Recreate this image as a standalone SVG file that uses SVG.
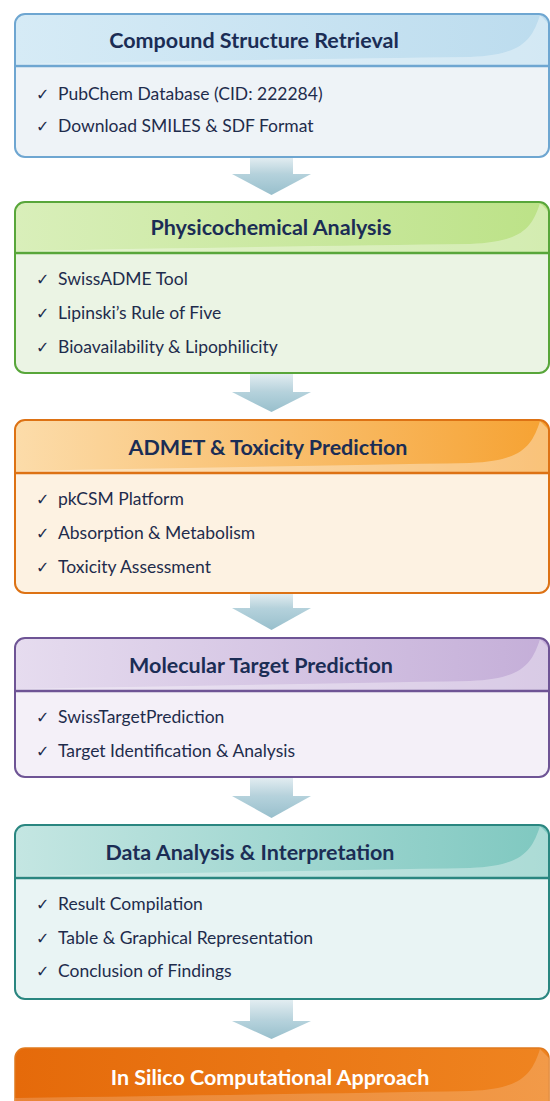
<svg xmlns="http://www.w3.org/2000/svg" width="550" height="1101" viewBox="0 0 550 1101">
  <defs>
    <style>
      .title { font-family: Lato, "Liberation Sans", sans-serif; font-weight: 700; font-size: 21.5px; fill: #1b2d55; text-anchor: middle; }
      .item { font-family: Lato, "Liberation Sans", sans-serif; font-size: 17.5px; fill: #1e2c4c; }
      .chk { font-family: "DejaVu Sans", sans-serif; font-size: 16px; fill: #1e2c4c; }
      .sheen { fill: #ffffff; opacity: 0.35; }
      .box { stroke-width: 2; }
    </style>
    <linearGradient id="hBlue" x1="0" y1="0" x2="1" y2="0">
      <stop offset="0" stop-color="#d6ebf6"/>
      <stop offset="1" stop-color="#bcdcee"/>
    </linearGradient>
    <linearGradient id="hGreen" x1="0" y1="0" x2="1" y2="0">
      <stop offset="0" stop-color="#d9efba"/>
      <stop offset="1" stop-color="#bce287"/>
    </linearGradient>
    <linearGradient id="hOrange" x1="0" y1="0" x2="1" y2="0">
      <stop offset="0" stop-color="#fcdcaa"/>
      <stop offset="1" stop-color="#f6a232"/>
    </linearGradient>
    <linearGradient id="hPurple" x1="0" y1="0" x2="1" y2="0">
      <stop offset="0" stop-color="#e6dcef"/>
      <stop offset="1" stop-color="#c4aed8"/>
    </linearGradient>
    <linearGradient id="hTeal" x1="0" y1="0" x2="1" y2="0">
      <stop offset="0" stop-color="#c4e6e2"/>
      <stop offset="1" stop-color="#7fc8c0"/>
    </linearGradient>
    <linearGradient id="hFinal" x1="0" y1="0" x2="1" y2="0">
      <stop offset="0" stop-color="#e56a0a"/>
      <stop offset="1" stop-color="#ef8420"/>
    </linearGradient>
    <linearGradient id="shaft" x1="0" y1="0" x2="0" y2="1">
      <stop offset="0" stop-color="#e4eef2"/>
      <stop offset="1" stop-color="#b3d0da"/>
    </linearGradient>
    <linearGradient id="head" x1="0" y1="0" x2="0" y2="1">
      <stop offset="0" stop-color="#b5d2dc"/>
      <stop offset="1" stop-color="#98bfcc"/>
    </linearGradient>
  </defs>

  <rect width="550" height="1101" fill="#ffffff"/>

  <!-- flow arrows between stages -->
  <g id="connectors">
    <rect x="250" y="157" width="43" height="18" fill="url(#shaft)"/>
    <polygon points="232,174 311,174 271.5,195" fill="url(#head)"/>
    <rect x="250" y="373" width="43" height="20" fill="url(#shaft)"/>
    <polygon points="232,392 311,392 271.5,412" fill="url(#head)"/>
    <rect x="250" y="593" width="43" height="16" fill="url(#shaft)"/>
    <polygon points="232,608 311,608 271.5,630" fill="url(#head)"/>
    <rect x="250" y="777" width="43" height="20" fill="url(#shaft)"/>
    <polygon points="232,796 311,796 271.5,818" fill="url(#head)"/>
    <rect x="250" y="999" width="43" height="23" fill="url(#shaft)"/>
    <polygon points="232,1021 311,1021 271.5,1039" fill="url(#head)"/>
  </g>

  <!-- stage 1 -->
  <g id="stage-retrieval">
    <rect x="15" y="14" width="534" height="143" rx="10" fill="#eef3f7"/>
    <path d="M25,14 H539 A10,10 0 0 1 549,24 V66 H15 V24 A10,10 0 0 1 25,14 Z" fill="url(#hBlue)"/>
    <path class="sheen" d="M15,64 Q300,59 470,57 C522,55 532,40 540,15 L549,24 V66 H15 Z"/>
    <line x1="15" y1="66" x2="549" y2="66" stroke="#6ea6d1" stroke-width="2.5"/>
    <rect class="box" x="15" y="14" width="534" height="143" rx="10" fill="none" stroke="#6ea6d1"/>
    <text class="title" x="254" y="48">Compound Structure Retrieval</text>
    <text class="chk" x="36" y="100">✓</text>
    <text class="item" x="58" y="100">PubChem Database (CID: 222284)</text>
    <text class="chk" x="36" y="132">✓</text>
    <text class="item" x="58" y="132">Download SMILES &amp; SDF Format</text>
  </g>

  <!-- stage 2 -->
  <g id="stage-physchem">
    <rect x="15" y="202" width="534" height="171" rx="10" fill="#ebf4e4"/>
    <path d="M25,202 H539 A10,10 0 0 1 549,212 V253 H15 V212 A10,10 0 0 1 25,202 Z" fill="url(#hGreen)"/>
    <path class="sheen" d="M15,251 Q300,246 470,244 C522,242 532,228 540,203 L549,212 V253 H15 Z"/>
    <line x1="15" y1="253" x2="549" y2="253" stroke="#58a63a" stroke-width="2.5"/>
    <rect class="box" x="15" y="202" width="534" height="171" rx="10" fill="none" stroke="#58a63a"/>
    <text class="title" x="271" y="235">Physicochemical Analysis</text>
    <text class="chk" x="36" y="285">✓</text>
    <text class="item" x="58" y="285">SwissADME Tool</text>
    <text class="chk" x="36" y="319">✓</text>
    <text class="item" x="58" y="319">Lipinski’s Rule of Five</text>
    <text class="chk" x="36" y="353">✓</text>
    <text class="item" x="58" y="353">Bioavailability &amp; Lipophilicity</text>
  </g>

  <!-- stage 3 -->
  <g id="stage-admet">
    <rect x="15" y="420" width="534" height="173" rx="10" fill="#fdf2e2"/>
    <path d="M25,420 H539 A10,10 0 0 1 549,430 V473 H15 V430 A10,10 0 0 1 25,420 Z" fill="url(#hOrange)"/>
    <path class="sheen" d="M15,471 Q300,466 470,463 C522,461 532,446 540,421 L549,430 V473 H15 Z"/>
    <line x1="15" y1="473" x2="549" y2="473" stroke="#dd7214" stroke-width="2.5"/>
    <rect class="box" x="15" y="420" width="534" height="173" rx="10" fill="none" stroke="#dd7214"/>
    <text class="title" x="268" y="455">ADMET &amp; Toxicity Prediction</text>
    <text class="chk" x="36" y="505">✓</text>
    <text class="item" x="58" y="505">pkCSM Platform</text>
    <text class="chk" x="36" y="539">✓</text>
    <text class="item" x="58" y="539">Absorption &amp; Metabolism</text>
    <text class="chk" x="36" y="573">✓</text>
    <text class="item" x="58" y="573">Toxicity Assessment</text>
  </g>

  <!-- stage 4 -->
  <g id="stage-target">
    <rect x="15" y="638" width="534" height="139" rx="10" fill="#f4f0f8"/>
    <path d="M25,638 H539 A10,10 0 0 1 549,648 V691 H15 V648 A10,10 0 0 1 25,638 Z" fill="url(#hPurple)"/>
    <path class="sheen" d="M15,689 Q300,684 470,681 C522,679 532,664 540,639 L549,648 V691 H15 Z"/>
    <line x1="15" y1="691" x2="549" y2="691" stroke="#6e5495" stroke-width="2.5"/>
    <rect class="box" x="15" y="638" width="534" height="139" rx="10" fill="none" stroke="#6e5495"/>
    <text class="title" x="261" y="673">Molecular Target Prediction</text>
    <text class="chk" x="36" y="723">✓</text>
    <text class="item" x="58" y="723">SwissTargetPrediction</text>
    <text class="chk" x="36" y="757">✓</text>
    <text class="item" x="58" y="757">Target Identification &amp; Analysis</text>
  </g>

  <!-- stage 5 -->
  <g id="stage-analysis">
    <rect x="15" y="825" width="534" height="174" rx="10" fill="#e9f4f4"/>
    <path d="M25,825 H539 A10,10 0 0 1 549,835 V878 H15 V835 A10,10 0 0 1 25,825 Z" fill="url(#hTeal)"/>
    <path class="sheen" d="M15,876 Q300,871 470,868 C522,866 532,851 540,826 L549,835 V878 H15 Z"/>
    <line x1="15" y1="878" x2="549" y2="878" stroke="#2a8680" stroke-width="2.5"/>
    <rect class="box" x="15" y="825" width="534" height="174" rx="10" fill="none" stroke="#2a8680"/>
    <text class="title" x="250" y="860">Data Analysis &amp; Interpretation</text>
    <text class="chk" x="36" y="910">✓</text>
    <text class="item" x="58" y="910">Result Compilation</text>
    <text class="chk" x="36" y="944">✓</text>
    <text class="item" x="58" y="944">Table &amp; Graphical Representation</text>
    <text class="chk" x="36" y="977">✓</text>
    <text class="item" x="58" y="977">Conclusion of Findings</text>
  </g>

  <!-- final stage -->
  <g id="stage-approach">
    <rect x="15" y="1048" width="534" height="70" rx="10" fill="url(#hFinal)" stroke="#e07a1e" stroke-width="1.5"/>
    <path d="M15,1098 Q300,1094 470,1091 C522,1089 532,1074 540,1049 L549,1058 V1101 H15 Z" fill="#ffffff" opacity="0.18"/>
    <text class="title" x="270" y="1085" style="fill:#ffffff">In Silico Computational Approach</text>
  </g>
</svg>
